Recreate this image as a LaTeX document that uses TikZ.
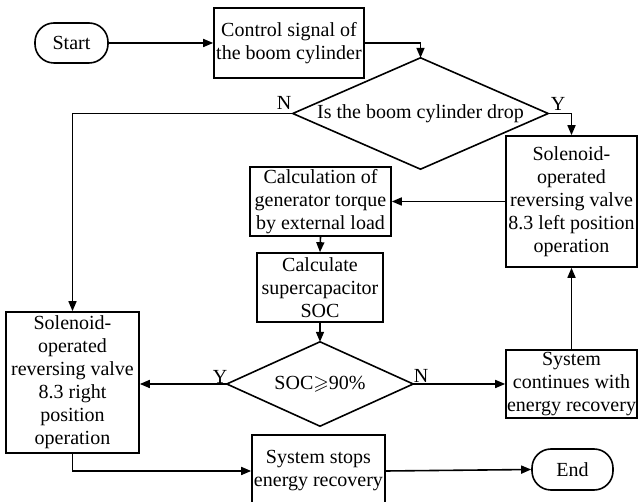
\documentclass[tikz,border=0pt]{standalone}
\usepackage{amssymb}
\usepackage{fontspec}
\setmainfont{Liberation Serif}
\newfontfamily\tnrfont{Liberation Serif}
\usetikzlibrary{arrows.meta}
\begin{document}
\begin{tikzpicture}[x=1pt,y=-1pt,
  every node/.style={font=\tnrfont\fontsize{20}{23}\selectfont},
  box/.style={draw,line width=1.6pt,rectangle,inner sep=0pt,align=center},
  term/.style={draw,line width=1.6pt,rectangle,rounded corners=19pt,inner sep=0pt,align=center},
  dia/.style={rectangle,inner sep=0pt,align=center},
  dialine/.style={line width=1.6pt,line join=miter},
  arr/.style={line width=1.6pt,-{Triangle[length=10pt,width=8pt]}},
  lbl/.style={inner sep=0pt}]
\useasboundingbox (0,0) rectangle (638,502);
\node[term,minimum width=73pt,minimum height=40pt] (start) at (71.5,43) {Start};
\node[box,minimum width=150pt,minimum height=70pt] (ctrl) at (289,43) {Control signal of\\the boom cylinder};
\node[dia,minimum width=255pt,minimum height=111pt] (d1) at (420.5,113.5) {Is the boom cylinder drop};
\draw[dialine] (d1.north) -- (d1.east) -- (d1.south) -- (d1.west) -- cycle;
\node[box,minimum width=131pt,minimum height=131pt] (solL) at (571.5,201.5) {Solenoid-\\operated\\reversing valve\\8.3 left position\\operation};
\node[box,minimum width=141pt,minimum height=69pt] (calc) at (320.5,201.5) {Calculation of\\generator torque\\by external load};
\node[box,minimum width=126pt,minimum height=69pt] (sup) at (320,287.5) {Calculate\\supercapacitor\\SOC};
\node[dia,minimum width=186pt,minimum height=84pt] (d2) at (320,384) {SOC$\geqslant$90\%};
\draw[dialine] (d2.north) -- (d2.east) -- (d2.south) -- (d2.west) -- cycle;
\node[box,minimum width=133pt,minimum height=141pt] (solR) at (72.5,382.5) {Solenoid-\\operated\\reversing valve\\8.3 right\\position\\operation};
\node[box,minimum width=131pt,minimum height=68pt] (cont) at (571.5,384) {System\\continues with\\energy recovery};
\node[box,minimum width=133pt,minimum height=72pt] (stops) at (318.5,471) {System stops\\energy recovery};
\node[term,minimum width=81pt,minimum height=41pt] (endn) at (572.5,469.5) {End};
\node[lbl] (n1) at (284,103) {N};
\node[lbl] (y1) at (558,104) {Y};
\node[lbl] (y2) at (220,377) {Y};
\node[lbl] (n2) at (421,376) {N};
\draw[arr] (start) -- (ctrl);
\draw[arr] (ctrl.east) -| (d1.north);
\draw[arr] (d1.east) -| (solL.north);
\draw[arr] (d1.west) -| (solR.north);
\draw[arr] (solL.west) -- (calc.east);
\draw[arr] (calc.south) -- (sup.north);
\draw[arr] (sup.south) -- (d2.north);
\draw[arr] (d2.west) -- (solR.east |- d2.west);
\draw[arr] (d2.east) -- (cont.west);
\draw[arr] (cont.north) -- (solL.south);
\draw[arr] (solR.south) |- (stops.west);
\draw[arr] (stops.east) -- (endn.west);
\end{tikzpicture}
\end{document}
